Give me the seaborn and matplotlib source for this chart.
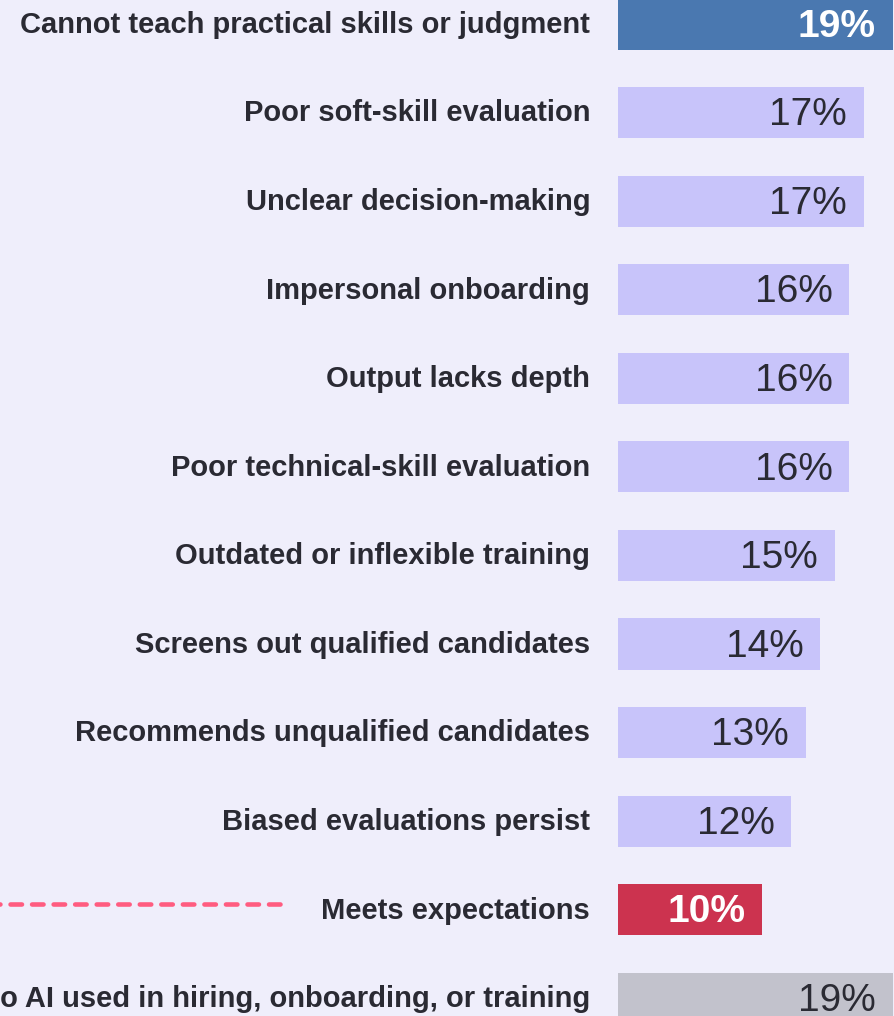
import matplotlib
matplotlib.use("Agg")
import matplotlib.pyplot as plt
import matplotlib.transforms as mtransforms
import seaborn as sns
import pandas as pd

categories = [
    "Cannot teach practical skills or judgment",
    "Poor soft-skill evaluation",
    "Unclear decision-making",
    "Impersonal onboarding",
    "Output lacks depth",
    "Poor technical-skill evaluation",
    "Outdated or inflexible training",
    "Screens out qualified candidates",
    "Recommends unqualified candidates",
    "Biased evaluations persist",
    "Meets expectations",
    "No AI used in hiring, onboarding, or training",
]
values = [19, 17, 17, 16, 16, 16, 15, 14, 13, 12, 10, 19]
bar_colors = ["#4a78b0"] + ["#c8c4fa"] * 9 + ["#cc334f", "#c2c2cc"]
label_colors = ["white"] + ["#2a2a33"] * 9 + ["white", "#2a2a33"]
label_weights = ["bold"] + ["normal"] * 9 + ["bold", "normal"]

BG = "#efeefb"
sns.set_theme(style="white")
plt.rcParams["font.family"] = ["Liberation Sans", "DejaVu Sans"]

W, H = 894, 1016
fig = plt.figure(figsize=(W / 100, H / 100), dpi=100, facecolor=BG)
ax = fig.add_axes([618 / W, 0, 274.5 / W, 1])
ax.set_facecolor(BG)

df = pd.DataFrame({"cat": categories, "val": values})
sns.barplot(data=df, y="cat", x="val", hue="cat", palette=bar_colors,
            legend=False, width=0.576, orient="h", ax=ax, saturation=1,
            linewidth=0, edgecolor="none")

ax.set_xlim(0, 19)
ax.set_ylim(11.2, -0.271)
for s in ax.spines.values():
    s.set_visible(False)
ax.set_xticks([])
ax.set_xlabel("")
ax.set_ylabel("")
ax.tick_params(axis="y", length=0, pad=20)
ax.set_yticks(range(len(categories)))
ax.set_yticklabels(categories, fontsize=21, fontweight="bold", color="#2a2a33")
shift = mtransforms.ScaledTranslation(0, 1.5 / 72, fig.dpi_scale_trans)
for lbl in ax.get_yticklabels():
    lbl.set_transform(lbl.get_transform() + shift)

for i, (v, c, w) in enumerate(zip(values, label_colors, label_weights)):
    ax.text(v - 1.15, i + 0.03, f"{v}%", ha="right", va="center",
            fontsize=28, color=c, fontweight=w)

# dashed reference line next to "Meets expectations" (drawn right-to-left so it ends on a full dash)
idx = categories.index("Meets expectations")
trans = mtransforms.blended_transform_factory(fig.transFigure, ax.transData)
ax.plot([280 / W, -10 / W], [idx - 0.07, idx - 0.07], transform=trans, color="#ff5c80",
        lw=3.3, dashes=(2.5, 2.2), dash_capstyle="round", clip_on=False)

fig.savefig("out.png", dpi=100, facecolor=BG)
